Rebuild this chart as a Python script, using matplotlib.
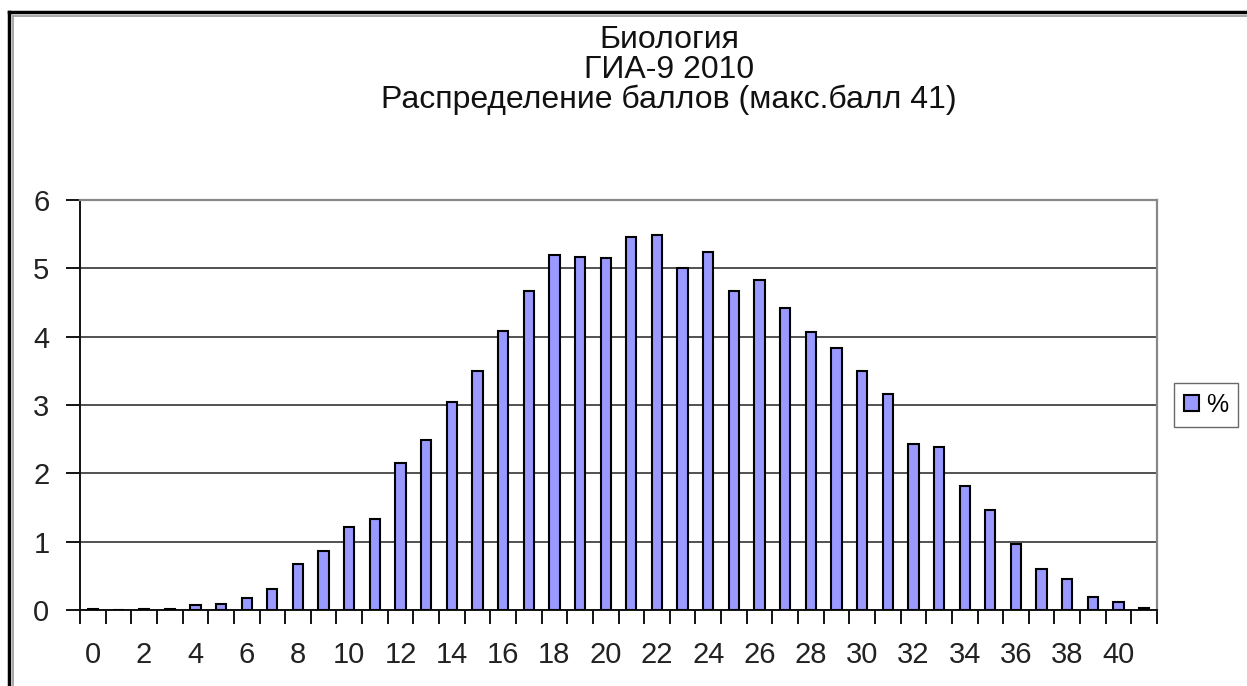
import numpy as np
import matplotlib
matplotlib.use('Agg')
import matplotlib.pyplot as plt
from matplotlib.lines import Line2D
from matplotlib.patches import Patch

plt.rcParams['font.family'] = ['Liberation Sans', 'DejaVu Sans']

# score categories and share of participants (%)
scores = list(range(42))
percent = [0.02, 0.0, 0.02, 0.02, 0.07, 0.09, 0.18, 0.31, 0.67, 0.87,
           1.22, 1.33, 2.15, 2.49, 3.04, 3.50, 4.09, 4.67, 5.19, 5.17,
           5.15, 5.46, 5.49, 5.01, 5.24, 4.67, 4.83, 4.42, 4.07, 3.83,
           3.50, 3.16, 2.43, 2.38, 1.81, 1.47, 0.96, 0.60, 0.45, 0.19,
           0.12, 0.03]
label_scores = list(range(0, 41, 2))
title_lines = ['Биология', 'ГИА-9 2010', 'Распределение баллов (макс.балл 41)']
legend_label = '%'

W, H = 1247, 686
fig = plt.figure(figsize=(W / 100, H / 100), dpi=100)
ax = fig.add_axes([80 / W, (H - 610) / H, (1157 - 80) / W, (610 - 200) / H])

ax.bar(scores, percent, width=0.4, color='#9999FF', edgecolor='black',
       linewidth=1.5, zorder=3)

ax.set_xlim(-0.5, 41.5)
ax.set_ylim(0, 6)
ax.set_yticks(range(7))
ax.yaxis.grid(True, color='#222222', linewidth=1.1, zorder=0)

# ticks between categories, labels under every second category
ax.set_xticks(np.arange(-0.5, 42, 1))
ax.set_xticklabels([])
ax.set_xticks(label_scores, minor=True)
ax.set_xticklabels([str(s) for s in label_scores], minor=True)
ax.tick_params(axis='x', which='major', length=10, width=1.3, direction='out')
ax.tick_params(axis='x', which='minor', length=0, pad=22, labelsize=21,
               labelcolor='#222222')
ax.tick_params(axis='y', length=10, width=1.3, pad=12, labelsize=21,
               labelcolor='#222222')

for side in ('left', 'bottom'):
    ax.spines[side].set_linewidth(1.4)
    ax.spines[side].set_color('#111111')
for side in ('top', 'right'):
    ax.spines[side].set_linewidth(1.6)
    ax.spines[side].set_color('#888888')

fig.text(669 / W, 1 - 70 / H, '\n'.join(title_lines), ha='center', va='center',
         fontsize=23, linespacing=0.98, color='#111111')

fig.legend(handles=[Patch(facecolor='#9999FF', edgecolor='black', linewidth=1.5,
                          label=legend_label)],
           loc='center', bbox_to_anchor=(1206 / W, 1 - 405 / H),
           fontsize=18, frameon=True, fancybox=False, edgecolor='#444444',
           handlelength=0.6, handleheight=0.6, handletextpad=0.3,
           borderpad=0.4, borderaxespad=0)

# frame of the original screenshot (left and top only)
fig.add_artist(Line2D([9 / W, 9 / W], [0, 1 - 12 / H], color='black', linewidth=2.5))
fig.add_artist(Line2D([9 / W, 1], [1 - 12 / H, 1 - 12 / H], color='black', linewidth=2.5))
fig.add_artist(Line2D([13 / W, 13 / W], [0, 1 - 16 / H], color='#999999', linewidth=1.2))
fig.add_artist(Line2D([13 / W, 1], [1 - 16 / H, 1 - 16 / H], color='#999999', linewidth=1.2))

fig.savefig('out.png', dpi=100)
